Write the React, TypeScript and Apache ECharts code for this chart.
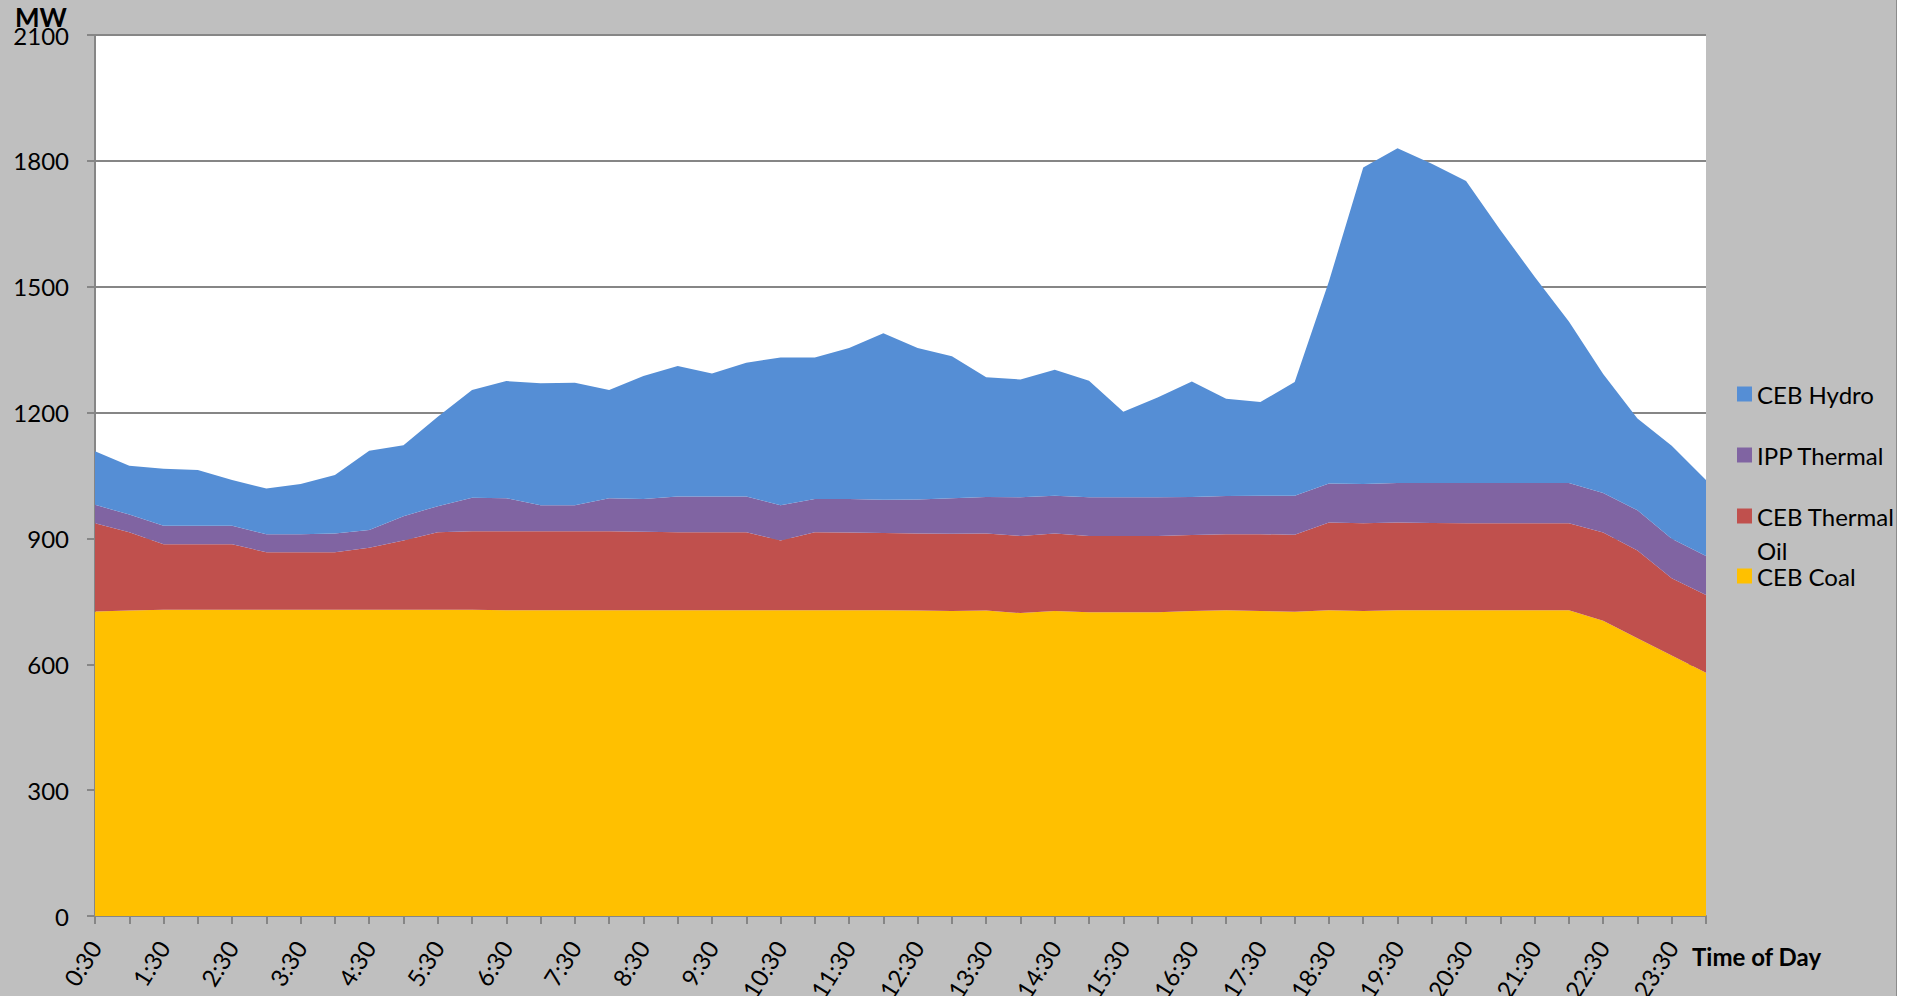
import React, { useEffect, useRef } from "react";
import * as echarts from "echarts";

const times: string[] = [
  "0:30", "1:00", "1:30", "2:00", "2:30", "3:00", "3:30", "4:00", "4:30", "5:00",
  "5:30", "6:00", "6:30", "7:00", "7:30", "8:00", "8:30", "9:00", "9:30", "10:00",
  "10:30", "11:00", "11:30", "12:00", "12:30", "13:00", "13:30", "14:00", "14:30", "15:00",
  "15:30", "16:00", "16:30", "17:00", "17:30", "18:00", "18:30", "19:00", "19:30", "20:00",
  "20:30", "21:00", "21:30", "22:00", "22:30", "23:00", "23:30", "24:00",
];

const cebCoal: number[] = [
  726, 728, 730, 730, 730, 730, 730, 730, 730, 730,
  730, 730, 729, 729, 729, 729, 729, 729, 729, 729,
  729, 729, 729, 729, 728, 727, 728, 722, 727, 724,
  724, 724, 727, 729, 727, 725, 729, 727, 729, 729,
  729, 729, 729, 729, 704, 662, 621, 580,
];

const cebThermalOil: number[] = [
  210, 187, 156, 156, 156, 137, 137, 137, 148, 165,
  185, 187, 188, 188, 188, 188, 187, 186, 186, 186,
  166, 186, 185, 184, 184, 184, 184, 184, 185, 182,
  182, 182, 181, 181, 183, 184, 209, 209, 209, 208,
  207, 207, 207, 207, 210, 209, 184, 185,
];

const ippThermal: number[] = [
  44, 42, 44, 44, 44, 43, 43, 45, 42, 58,
  62, 80, 79, 62, 62, 79, 78, 85, 85, 85,
  84, 79, 80, 79, 81, 85, 87, 92, 90, 92,
  92, 92, 91, 91, 92, 93, 93, 94, 94, 95,
  96, 96, 96, 96, 94, 96, 94, 93,
];

const cebHydro: number[] = [
  128, 116, 136, 133, 109, 109, 120, 139, 189, 169,
  213, 257, 279, 291, 292, 258, 293, 311, 293, 319,
  352, 337, 360, 397, 361, 338, 285, 281, 300, 278,
  204, 238, 275, 232, 223, 271, 482, 754, 798, 761,
  720, 603, 492, 385, 284, 219, 222, 181,
];

const seriesNames = ["CEB Coal", "CEB Thermal Oil", "IPP Thermal", "CEB Hydro"];
const seriesColors = ["#FFC000", "#C0504D", "#8064A2", "#558ED5"];
const seriesData = [cebCoal, cebThermalOil, ippThermal, cebHydro];

const FONT = "Lato, 'Noto Sans', sans-serif";

export default function App() {
  const ref = useRef<HTMLDivElement>(null);

  useEffect(() => {
    if (!ref.current) return;
    const chart = echarts.init(ref.current, undefined, { renderer: "svg" });

    const legendCommon = {
      orient: "vertical" as const,
      left: 1732,
      itemWidth: 15,
      itemHeight: 15,
      icon: "rect",
      itemGap: 0,
      selectedMode: false,
      textStyle: { fontFamily: FONT, fontSize: 24, color: "#000", lineHeight: 34 },
    };

    chart.setOption({
      animation: false,
      backgroundColor: "#BFBFBF",
      textStyle: { fontFamily: FONT },
      grid: {
        left: 95,
        right: 190,
        top: 35,
        bottom: 80,
        containLabel: false,
        outerBoundsMode: "none",
        backgroundColor: "#FFFFFF",
        show: true,
        borderWidth: 0,
      },
      legend: [
        { ...legendCommon, top: 372, data: ["CEB Hydro"] },
        { ...legendCommon, top: 433, data: ["IPP Thermal"] },
        {
          ...legendCommon,
          top: 460,
          data: ["CEB Thermal Oil"],
          formatter: () => " \nCEB Thermal\nOil",
        },
        { ...legendCommon, top: 554, data: ["CEB Coal"] },
      ],
      xAxis: {
        type: "category",
        data: times,
        boundaryGap: false,
        axisLine: { lineStyle: { color: "#868686", width: 2 } },
        axisTick: { show: true, interval: 0, length: 8, lineStyle: { color: "#868686", width: 2 } },
        axisLabel: { interval: 1, rotate: 58, fontSize: 24, color: "#000", margin: 27, fontFamily: FONT },
        splitLine: { show: false },
      },
      yAxis: {
        type: "value",
        min: 0,
        max: 2100,
        interval: 300,
        axisLine: { show: true, lineStyle: { color: "#868686", width: 2 } },
        axisTick: { show: true, length: 8, lineStyle: { color: "#868686", width: 2 } },
        axisLabel: {
          fontSize: 24,
          color: "#000",
          margin: 26,
          fontFamily: FONT,
          formatter: (v: number) => String(v),
        },
        splitLine: { show: true, lineStyle: { color: "#868686", width: 2 } },
      },
      graphic: [
        {
          type: "text",
          left: 15,
          top: 4,
          style: { text: "MW", font: `bold 26px ${FONT}`, fill: "#000" },
        },
        {
          type: "text",
          left: 1692,
          top: 944,
          style: { text: "Time of Day", font: `bold 24px ${FONT}`, fill: "#000" },
        },
      ],
      series: seriesNames.map((name, i) => ({
        name,
        type: "line",
        stack: "total",
        data: seriesData[i],
        showSymbol: false,
        symbol: "none",
        lineStyle: { width: 0, color: seriesColors[i] },
        itemStyle: { color: seriesColors[i] },
        areaStyle: { color: seriesColors[i], opacity: 1 },
        emphasis: { disabled: true },
      })),
    });

    return () => chart.dispose();
  }, []);

  return (
    <div
      ref={ref}
      style={{
        position: "absolute",
        left: 0,
        top: 0,
        width: 1896,
        height: 996,
        borderRight: "1px solid #8C8C8C",
      }}
    />
  );
}
